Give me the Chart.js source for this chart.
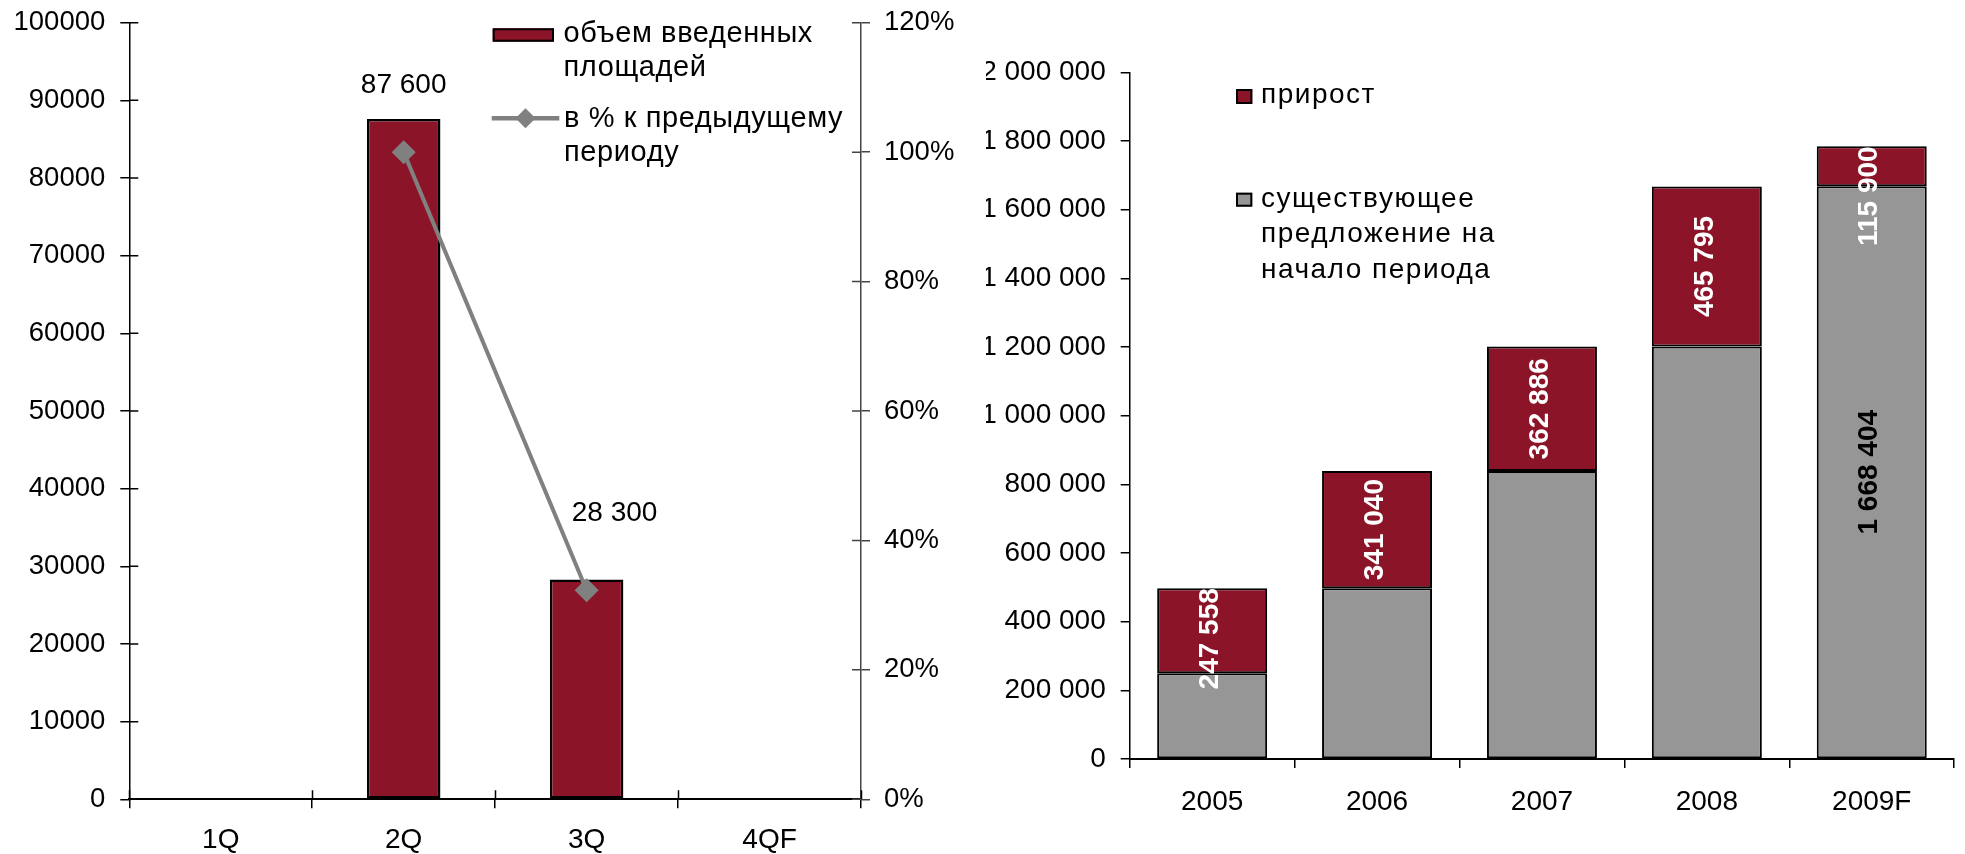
<!DOCTYPE html>
<html><head><meta charset="utf-8">
<script src="https://cdn.jsdelivr.net/npm/chart.js@4/dist/chart.umd.min.js"></script>
<style>
html,body{margin:0;padding:0;background:#fff;overflow:hidden}
#wrap{position:relative;width:1965px;height:854px;background:#fff}
canvas{position:absolute;top:0}
#c1{left:0}
#c2{left:986px}
</style></head><body>
<div id="wrap">
<canvas id="c1" width="986" height="854"></canvas>
<canvas id="c2" width="979" height="854"></canvas>
</div>
<script>
// ---------- DATA ----------
const quarters = ['1Q', '2Q', '3Q', '4QF'];
const areaValues = [null, 87600, 28300, null];
const pctValues = [null, 100, 32.3, null];
const areaAxisTicks = [0, 10000, 20000, 30000, 40000, 50000, 60000, 70000, 80000, 90000, 100000];
const pctAxisTicks = [0, 20, 40, 60, 80, 100, 120];
const leftLegendLines = [['объем введенных', 'площадей'], ['в % к предыдущему', 'периоду']];

const years = ['2005', '2006', '2007', '2008', '2009F'];
const existingSupply = [250000, 497558, 838598, 1201484, 1668404];
const growth = [247558, 341040, 362886, 465795, 115900];
const supplyAxisTicks = [0, 200000, 400000, 600000, 800000, 1000000, 1200000, 1400000, 1600000, 1800000, 2000000];
const rightLegendLines = [['прирост'], ['существующее', 'предложение на', 'начало периода']];

// ---------- STYLE ----------
const RED = '#8c1428', GRAY = '#969696', LINEGRAY = '#808080';
const FONT = '"Liberation Sans", Arial, sans-serif';
Chart.defaults.font.family = FONT;
Chart.defaults.font.size = 28;
Chart.defaults.color = '#000';

const fmt = v => String(v).replace(/\B(?=(\d{3})+(?!\d))/g, ' ');
const noPad = s => { s.paddingTop = 0; s.paddingBottom = 0; };

// ticks that cross the axis line (inner part)
const crossTicks = {
  id: 'crossTicks',
  afterDraw(chart, args, opts) {
    const ctx = chart.ctx;
    (opts.scales || []).forEach(cfg => {
      const s = chart.scales[cfg.id];
      if (!s) return;
      ctx.save();
      ctx.strokeStyle = cfg.color; ctx.lineWidth = cfg.width;
      ctx.beginPath();
      if (s.isHorizontal()) {
        const n = s.ticks.length;
        for (let i = 0; i <= n; i++) {
          const px = Math.round(s.getPixelForValue(i - 0.5)) + 0.5;
          ctx.moveTo(px, s.top); ctx.lineTo(px, s.top - cfg.len);
        }
      } else {
        const left = s.position === 'left';
        const x0 = left ? s.right : s.left;
        s.ticks.forEach(t => {
          const py = s.getPixelForValue(t.value);
          ctx.moveTo(x0, py); ctx.lineTo(x0 + (left ? 1 : -1) * cfg.len, py);
        });
      }
      ctx.stroke();
      ctx.restore();
    });
  }
};

// value labels above bars (left chart)
const topLabels = {
  id: 'topLabels',
  afterDatasetsDraw(chart, args, opts) {
    const ctx = chart.ctx;
    const ds = chart.data.datasets[opts.datasetIndex];
    const meta = chart.getDatasetMeta(opts.datasetIndex);
    ctx.save();
    ctx.font = opts.font; ctx.fillStyle = opts.color;
    ctx.textAlign = 'center'; ctx.textBaseline = 'middle';
    meta.data.forEach((el, i) => {
      const v = ds.data[i];
      if (v == null) return;
      const off = (opts.offsets && opts.offsets[i]) || [0, 0];
      ctx.fillText(fmt(v), el.x + off[0], el.y + off[1]);
    });
    ctx.restore();
  }
};

// rotated labels inside stacked segments (right chart)
const stackLabels = {
  id: 'stackLabels',
  afterDatasetsDraw(chart, args, opts) {
    const ctx = chart.ctx;
    (opts.sets || []).forEach(set => {
      const ds = chart.data.datasets[set.datasetIndex];
      const meta = chart.getDatasetMeta(set.datasetIndex);
      meta.data.forEach((el, i) => {
        if (set.indices && !set.indices.includes(i)) return;
        const txt = fmt(ds.data[i]);
        ctx.save();
        ctx.font = opts.font;
        const len = ctx.measureText(txt).width;
        const top = Math.min(el.y, el.base), bot = Math.max(el.y, el.base);
        const cy = Math.max((top + bot) / 2, top + len / 2);
        ctx.translate(el.x + opts.dx, cy);
        ctx.rotate(-Math.PI / 2);
        ctx.fillStyle = set.color;
        ctx.textAlign = 'center'; ctx.textBaseline = 'middle';
        ctx.fillText(txt, 0, 0);
        ctx.restore();
      });
    });
  }
};

// multi-line legend
const wrapLegend = {
  id: 'wrapLegend',
  afterDraw(chart, args, opts) {
    const ctx = chart.ctx;
    (opts.items || []).forEach(it => {
      const ds = chart.data.datasets[it.datasetIndex];
      ctx.save();
      if (it.marker === 'box') {
        ctx.fillStyle = ds.backgroundColor;
        ctx.fillRect(it.x, it.y, it.w, it.h);
        ctx.strokeStyle = '#000'; ctx.lineWidth = 2;
        ctx.strokeRect(it.x + 1, it.y + 1, it.w - 2, it.h - 2);
      } else {
        ctx.strokeStyle = ds.borderColor; ctx.lineWidth = it.lw;
        ctx.beginPath(); ctx.moveTo(it.x, it.y); ctx.lineTo(it.x + it.w, it.y); ctx.stroke();
        ctx.fillStyle = ds.pointBackgroundColor;
        const cx = it.x + it.w / 2, r = it.r;
        ctx.beginPath();
        ctx.moveTo(cx - r, it.y); ctx.lineTo(cx, it.y - r); ctx.lineTo(cx + r, it.y); ctx.lineTo(cx, it.y + r);
        ctx.closePath(); ctx.fill();
      }
      ctx.fillStyle = '#000';
      ctx.font = opts.font;
      ctx.textAlign = 'left'; ctx.textBaseline = 'alphabetic';
      if ('letterSpacing' in ctx) ctx.letterSpacing = opts.letterSpacing;
      it.lines.forEach((ln, k) => ctx.fillText(ln, it.tx, it.ty + k * opts.lineHeight));
      ctx.restore();
    });
  }
};

// ---------- LEFT CHART ----------
new Chart(document.getElementById('c1'), {
  type: 'bar',
  data: {
    labels: quarters,
    datasets: [
      {
        type: 'line', label: leftLegendLines[1].join(' '), data: pctValues, yAxisID: 'y1',
        borderColor: LINEGRAY, borderWidth: 4, tension: 0,
        pointStyle: 'rectRot', pointRadius: 12, pointBorderWidth: 0,
        pointBackgroundColor: LINEGRAY, pointBorderColor: LINEGRAY, order: 0
      },
      {
        type: 'bar', label: leftLegendLines[0].join(' '), data: areaValues, yAxisID: 'y',
        backgroundColor: RED, borderColor: '#000', borderWidth: 2.5, borderSkipped: false,
        barPercentage: 0.402, categoryPercentage: 1, order: 1
      }
    ]
  },
  options: {
    responsive: false, animation: false, devicePixelRatio: 1,
    layout: { padding: { top: 22.7, left: 0, right: 0, bottom: 0 } },
    plugins: {
      legend: { display: false }, tooltip: { enabled: false },
      crossTicks: { scales: [
        { id: 'x', len: 9, color: '#000', width: 1.5 },
        { id: 'y', len: 9, color: '#000', width: 1.5 },
        { id: 'y1', len: 9, color: '#444', width: 1.5 }
      ] },
      topLabels: { datasetIndex: 1, font: '28px ' + FONT, color: '#000',
        offsets: [[0, 0], [0, -34], [28, -66], [0, 0]] },
      wrapLegend: {
        font: '29px ' + FONT, letterSpacing: '0.6px', lineHeight: 34,
        items: [
          { datasetIndex: 1, marker: 'box', x: 492.7, y: 28.3, w: 61.3, h: 13.4, lines: leftLegendLines[0], tx: 563.5, ty: 42 },
          { datasetIndex: 0, marker: 'line', x: 491.7, y: 118.3, w: 67.6, lw: 4.5, r: 10, lines: leftLegendLines[1], tx: 564, ty: 127 }
        ]
      }
    },
    scales: {
      x: {
        grid: { offset: true, drawOnChartArea: false, tickLength: 9, color: '#000', lineWidth: 1.5 },
        border: { color: '#000', width: 2 },
        ticks: { padding: 15, maxRotation: 0, autoSkip: false, color: '#000', font: { size: 28 } },
        afterFit: s => { s.height = 54.7; }
      },
      y: {
        position: 'left', min: 0, max: 100000,
        afterBuildTicks: s => { s.ticks = areaAxisTicks.map(v => ({ value: v })); },
        grid: { drawOnChartArea: false, tickLength: 9, color: '#000', lineWidth: 1.5 },
        border: { color: '#000', width: 1.5 },
        ticks: { padding: 15, color: '#000', font: { size: 27.5 }, callback: v => String(v) },
        afterFit: s => { s.width = 129.3; noPad(s); }
      },
      y1: {
        position: 'right', min: 0, max: 120,
        afterBuildTicks: s => { s.ticks = pctAxisTicks.map(v => ({ value: v })); },
        grid: { drawOnChartArea: false, tickLength: 9, color: '#444', lineWidth: 1.5 },
        border: { color: '#444', width: 1.5 },
        ticks: { padding: 14, color: '#000', font: { size: 27.5 }, callback: v => v + '%' },
        afterFit: s => { s.width = 125; noPad(s); }
      }
    }
  },
  plugins: [crossTicks, topLabels, wrapLegend]
});

// ---------- RIGHT CHART ----------
new Chart(document.getElementById('c2'), {
  type: 'bar',
  data: {
    labels: years,
    datasets: [
      {
        label: rightLegendLines[1].join(' '), data: existingSupply, stack: 's',
        backgroundColor: GRAY, borderColor: '#000', borderWidth: 2, borderSkipped: false,
        barPercentage: 0.667, categoryPercentage: 1
      },
      {
        label: rightLegendLines[0].join(' '), data: growth, stack: 's',
        backgroundColor: RED, borderColor: '#000', borderWidth: 2, borderSkipped: false,
        barPercentage: 0.667, categoryPercentage: 1
      }
    ]
  },
  options: {
    responsive: false, animation: false, devicePixelRatio: 1,
    layout: { padding: { top: 72.3, left: 0, right: 10.8, bottom: 0 } },
    plugins: {
      legend: { display: false }, tooltip: { enabled: false },
      stackLabels: {
        font: 'bold 28px ' + FONT, dx: -2,
        sets: [
          { datasetIndex: 1, color: '#fff' },
          { datasetIndex: 0, color: '#000', indices: [4] }
        ]
      },
      wrapLegend: {
        font: '28px ' + FONT, letterSpacing: '1.5px', lineHeight: 35.5,
        items: [
          { datasetIndex: 1, marker: 'box', x: 250, y: 89, w: 16.3, h: 15, lines: rightLegendLines[0], tx: 275, ty: 103.3 },
          { datasetIndex: 0, marker: 'box', x: 250, y: 192.7, w: 16.3, h: 14, lines: rightLegendLines[1], tx: 275, ty: 206.7 }
        ]
      }
    },
    scales: {
      x: {
        stacked: true,
        grid: { offset: true, drawOnChartArea: false, tickLength: 9, color: '#000', lineWidth: 1.5 },
        border: { color: '#000', width: 2 },
        ticks: { padding: 17, maxRotation: 0, autoSkip: false, color: '#000', font: { size: 28 } },
        afterFit: s => { s.height = 95; }
      },
      y: {
        stacked: true, min: 0, max: 2000000,
        afterBuildTicks: s => { s.ticks = supplyAxisTicks.map(v => ({ value: v })); },
        grid: { drawOnChartArea: false, tickLength: 9, color: '#000', lineWidth: 1.5 },
        border: { color: '#000', width: 1.5 },
        ticks: { padding: 15, color: '#000', font: { size: 28 }, callback: v => fmt(v) },
        afterFit: s => { s.width = 143.7; noPad(s); }
      }
    }
  },
  plugins: [stackLabels, wrapLegend]
});
</script>
</body></html>
